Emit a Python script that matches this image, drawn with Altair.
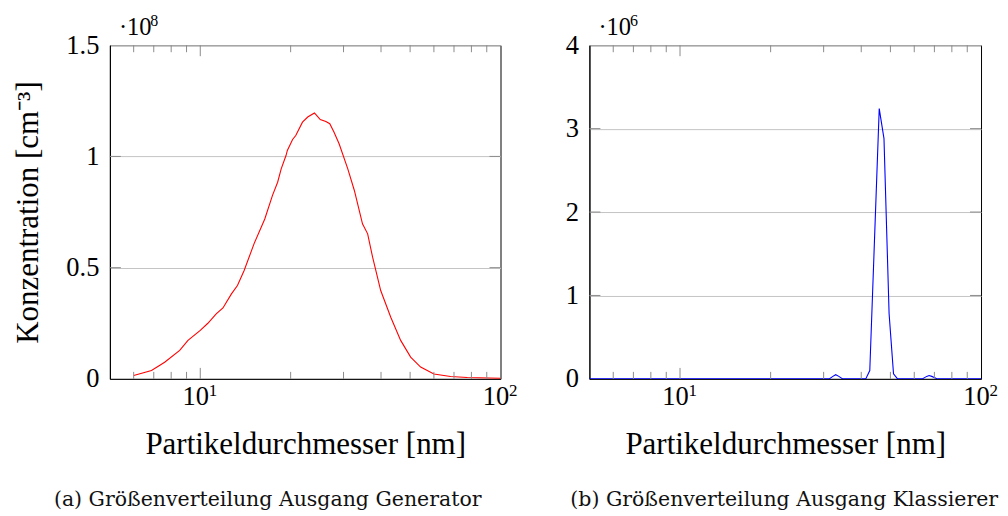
import altair as alt
import pandas as pd

# Generator outlet: particle diameter [nm] and number concentration [10^8 cm^-3]
gen_d = [6.0, 6.88, 7.61, 8.54, 9.1, 10.0, 10.6, 11.3, 11.9, 12.7, 13.3, 14.0,
         15.1, 16.4, 17.4, 18.1, 18.6, 19.3, 19.5, 20.3, 20.8, 21.9, 22.8, 24.0,
         24.2, 25.1, 26.2, 27.0, 27.9, 29.0, 31.0, 32.6, 34.7, 36.1, 37.5, 39.9,
         43.1, 46.5, 50.2, 54.2, 60.0, 68.2, 77.5, 100.0]
gen_c = [0.015, 0.038, 0.075, 0.128, 0.173, 0.218, 0.25, 0.292, 0.319, 0.382, 0.42, 0.487,
         0.607, 0.719, 0.825, 0.884, 0.944, 1.004, 1.027, 1.076, 1.094, 1.154, 1.177, 1.195,
         1.19, 1.166, 1.157, 1.147, 1.109, 1.057, 0.944, 0.847, 0.697, 0.652, 0.547, 0.397,
         0.277, 0.173, 0.098, 0.053, 0.022, 0.011, 0.006, 0.003]

# Classifier outlet: particle diameter [nm] and number concentration [10^6 cm^-3]
cls_d = [5.0, 31.3, 32.2, 32.9, 33.7, 34.7, 41.4, 42.7, 45.9, 47.6, 49.5, 51.2,
         52.8, 63.8, 66.0, 67.2, 68.6, 71.6, 100.0]
cls_c = [0.0, 0.0, 0.03, 0.05, 0.03, 0.0, 0.0, 0.10, 3.24, 2.88, 0.78, 0.06,
         0.0, 0.0, 0.03, 0.04, 0.03, 0.0, 0.0]

# decade labels on the diameter axis: value and its power of ten
x_label_values = [10, 100]
x_label_powers = ["1", "2"]
x_minor = [6, 7, 8, 9, 20, 30, 40, 50, 60, 70, 80, 90]
x_major = [10]

gen_y_values = [0, 0.5, 1.0, 1.5]
cls_y_values = [0, 1, 2, 3, 4]

SERIF = "Liberation Serif"
CAPTION_FONT = "DejaVu Serif"
H = 334
TICK_COLOR = "#8c8c8c"
MINOR_LEN = 7
MAJOR_LEN = 11
LABEL_SIZE = 26.5


def panel(d, c, color, w, ymax, y_values, exponent, caption, caption_x, y_title):
    df = pd.DataFrame({"d": d, "c": c})
    xscale = alt.Scale(type="log", domain=[5, 100], nice=False)
    yscale = alt.Scale(domain=[0, ymax], nice=False, zero=True)

    x_axis = alt.Axis(
        values=x_label_values,
        labelExpr="'10'",
        labelOffset=-5,
        grid=False, ticks=False, tickSize=0,
        labelFlush=False, labelOverlap=False,
        labelPadding=26, labelBaseline="alphabetic",
        title="Partikeldurchmesser [nm]",
        titleY=75, titleBaseline="alphabetic",
    )
    y_kwargs = dict(
        values=y_values, format="~g",
        grid=True, gridColor="#c4c4c4", gridWidth=1,
        ticks=False, tickSize=0, labelPadding=11,
        labelFlush=False, labelOverlap=False,
    )
    if y_title:
        y_axis = alt.Axis(title=y_title, titleAngle=270, titleX=-81, titleY=H / 2,
                          titleAlign="center", titleBaseline="middle", **y_kwargs)
    else:
        y_axis = alt.Axis(title=None, **y_kwargs)

    xenc = alt.X("d:Q", scale=xscale, axis=x_axis)
    yenc = alt.Y("c:Q", scale=yscale, axis=y_axis)

    line = alt.Chart(df).mark_line(color=color, strokeWidth=1.1, clip=True).encode(
        x=xenc, y=yenc
    )

    # inward axis ticks along all four sides of the frame
    layers = []
    for vals, length in ((x_minor, MINOR_LEN), (x_major, MAJOR_LEN)):
        base = alt.Chart(pd.DataFrame({"d": vals})).mark_rule(color=TICK_COLOR, strokeWidth=1)
        layers.append(base.encode(x=xenc, y=alt.value(H), y2=alt.value(H - length)))
        layers.append(base.encode(x=xenc, y=alt.value(0), y2=alt.value(length)))
    inner_y = [v for v in y_values if 0 < v < ymax]
    base = alt.Chart(pd.DataFrame({"c": inner_y})).mark_rule(color=TICK_COLOR, strokeWidth=1)
    layers.append(base.encode(y=yenc, x=alt.value(0), x2=alt.value(MAJOR_LEN)))
    layers.append(base.encode(y=yenc, x=alt.value(w - MAJOR_LEN), x2=alt.value(w)))

    # exponents of the decade labels
    powers = alt.Chart(pd.DataFrame({"d": x_label_values, "p": x_label_powers})).mark_text(
        align="left", baseline="alphabetic", font=SERIF, fontSize=17, color="black", dx=8.5
    ).encode(x=xenc, y=alt.value(H + 17), text="p:N")

    # common scale factor of the concentration axis
    mult = alt.Chart(pd.DataFrame({"t": ["·10"]})).mark_text(
        align="left", baseline="alphabetic", font=SERIF, fontSize=24.5, color="black"
    ).encode(x=alt.value(9), y=alt.value(-10.5), text="t:N")
    sup = alt.Chart(pd.DataFrame({"t": [exponent]})).mark_text(
        align="left", baseline="alphabetic", font=SERIF, fontSize=16, color="black"
    ).encode(x=alt.value(40.5), y=alt.value(-19), text="t:N")

    cap = alt.Chart(pd.DataFrame({"t": [caption]})).mark_text(
        align="center", baseline="alphabetic", font=CAPTION_FONT, fontSize=20.5, color="#111111"
    ).encode(x=alt.value(caption_x), y=alt.value(H + 127), text="t:N")

    return alt.layer(line, *layers, powers, mult, sup, cap).properties(width=w, height=H)


left = panel(gen_d, gen_c, "#ff0000", 391, 1.5, gen_y_values, "8",
             "(a)  Größenverteilung Ausgang Generator", 158, "Konzentration [cm⁻³]")
right = panel(cls_d, cls_c, "#0000ff", 392, 4, cls_y_values, "6",
              "(b)  Größenverteilung Ausgang Klassierer", 195, None)

chart = alt.hconcat(left, right, spacing=89, bounds="flush").configure_view(
    stroke="black", strokeWidth=1
).configure_axis(
    labelFont=SERIF, labelFontSize=LABEL_SIZE, labelColor="black",
    titleFont=SERIF, titleFontSize=31, titleFontWeight="normal", titleColor="black",
    domainColor="black", domainWidth=1,
).properties(
    padding={"left": 12, "top": 12, "right": 5, "bottom": 5},
    background="white",
)

chart.save("out.html", embed_options={"renderer": "svg", "actions": False})
